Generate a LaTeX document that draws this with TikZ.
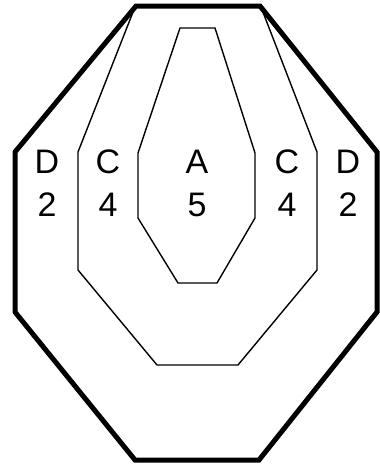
\documentclass[tikz,border=0pt]{standalone}
\usepackage{fontspec}
\setmainfont{Liberation Sans}
\begin{document}
\begin{tikzpicture}[x=1pt,y=-1pt,
  thickline/.style={line width=5pt,line join=miter},
  thinline/.style={line width=1.4pt,line join=miter},
  lbl/.style={inner sep=0pt,anchor=base,font=\fontsize{34}{40}\selectfont}]
\useasboundingbox (0,0) rectangle (380,467);
% outer D boundary
\draw[thickline] (15,152) -- (136,6) -- (260,6) -- (377,152) -- (377,312) -- (259,460) -- (135,460) -- (15,312) -- cycle;
% C boundary
\draw[thinline] (135,7) -- (78,152) -- (78,270) -- (157,365) -- (238,365) -- (317,270) -- (317,152) -- (261,7);
% A boundary
\draw[thinline] (180,28) -- (215,28) -- (255,153) -- (255,218) -- (217,283) -- (178,283) -- (138,218) -- (138,153) -- cycle;
% labels
\node[lbl] (d1) at (47,173) {D};
\node[lbl] (d1n) at (47,216) {2};
\node[lbl] (c1) at (108,173) {C};
\node[lbl] (c1n) at (108,216) {4};
\node[lbl] (a) at (197,173) {A};
\node[lbl] (an) at (197,216) {5};
\node[lbl] (c2) at (287,173) {C};
\node[lbl] (c2n) at (287,216) {4};
\node[lbl] (d2) at (348,173) {D};
\node[lbl] (d2n) at (348,216) {2};
\end{tikzpicture}
\end{document}
